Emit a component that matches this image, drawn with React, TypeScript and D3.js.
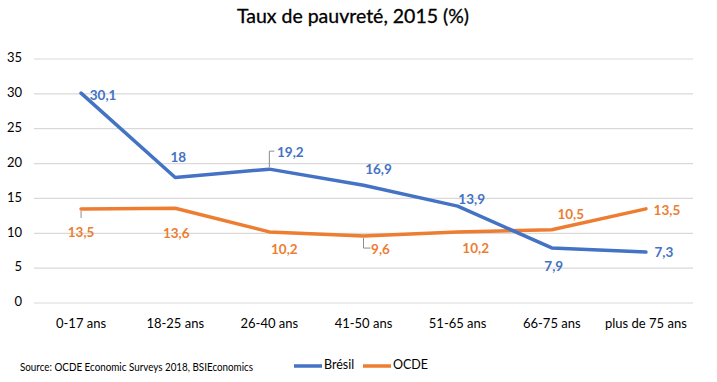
import React from "react";
import * as d3 from "d3";

const categories = ["0-17 ans", "18-25 ans", "26-40 ans", "41-50 ans", "51-65 ans", "66-75 ans", "plus de 75 ans"];
const bresil = [30.1, 18, 19.2, 16.9, 13.9, 7.9, 7.3];
const ocde = [13.5, 13.6, 10.2, 9.6, 10.2, 10.5, 13.5];
const yTicks = [0, 5, 10, 15, 20, 25, 30, 35];
const seriesNames = ["Brésil", "OCDE"];

// label offsets (px) relative to point: [dx, dy]
const bresilLabelOff: [number, number][] = [[22, 3], [3, -19], [21, -16], [15, -15], [14, -6], [2, 20], [18, 1]];
const ocdeLabelOff: [number, number][] = [[0, 25], [1, 26], [15, 19], [17, 14], [18, 18], [19, -14], [21, 3]];

const BLUE = "#4472C4";
const ORANGE = "#ED7D31";
const GREY = "#8c8c8c";
const FONT = "Lato, 'Open Sans', sans-serif";

const W = 717, H = 382;

export default function App() {
  const x = d3.scaleBand<string>().domain(categories).range([34, 693]);
  const y = d3.scaleLinear().domain([0, 35]).range([303, 59]);
  const cx = (c: string) => (x(c) as number) + x.bandwidth() / 2;
  const line = d3.line<number>().x((_, i) => cx(categories[i])).y((d) => y(d));

  const fmt = (v: number) => String(v).replace(".", ",");

  const renderLabels = (data: number[], offs: [number, number][], color: string, key: string) =>
    data.map((v, i) => {
      const px = cx(categories[i]);
      const py = y(v);
      const [dx, dy] = offs[i];
      return (
        <text key={key + i} x={px + dx} y={py + dy} textAnchor="middle" dominantBaseline="middle" fill={color} fontSize={13.5} fontWeight="bold">
          {fmt(v)}
        </text>
      );
    });

  // leader lines
  const b2x = cx(categories[2]), b2y = y(bresil[2]);
  const o0x = cx(categories[0]), o0y = y(ocde[0]);
  const o3x = cx(categories[3]), o3y = y(ocde[3]);

  return (
    <svg width={W} height={H} style={{ position: "absolute", left: 0, top: 0, background: "#fff" }} fontFamily={FONT}>
      <rect width={W} height={H} fill="#fff" />
      <text x={353} y={18} textAnchor="middle" dominantBaseline="middle" fontSize={19.5} fill="#000" stroke="#000" strokeWidth={0.3}>
        Taux de pauvreté, 2015 (%)
      </text>
      {yTicks.map((t) => (
        <g key={t}>
          <line x1={34} x2={693} y1={y(t)} y2={y(t)} stroke="#d9d9d9" strokeWidth={1.2} />
          <text x={22} y={y(t)} textAnchor="end" dominantBaseline="middle" fontSize={13} fill="#000">
            {t}
          </text>
        </g>
      ))}
      {categories.map((c) => (
        <text key={c} x={cx(c)} y={325} textAnchor="middle" dominantBaseline="middle" fontSize={13} fill="#000">
          {c}
        </text>
      ))}
      <polyline points={`${b2x},${b2y - 2} ${b2x},${b2y - 18} ${b2x + 5},${b2y - 18}`} fill="none" stroke={GREY} strokeWidth={1} />
      <line x1={o0x} x2={o0x} y1={o0y + 2} y2={o0y + 9} stroke={GREY} strokeWidth={1} />
      <polyline points={`${o3x},${o3y + 2} ${o3x},${o3y + 12} ${o3x + 7},${o3y + 12}`} fill="none" stroke={GREY} strokeWidth={1} />
      <path d={line(ocde) as string} fill="none" stroke={ORANGE} strokeWidth={3.5} strokeLinejoin="round" strokeLinecap="round" />
      <path d={line(bresil) as string} fill="none" stroke={BLUE} strokeWidth={3.5} strokeLinejoin="round" strokeLinecap="round" />
      {renderLabels(bresil, bresilLabelOff, BLUE, "b")}
      {renderLabels(ocde, ocdeLabelOff, ORANGE, "o")}
      <text x={20} y={368} dominantBaseline="middle" fontSize={12} fill="#000" textLength={233} lengthAdjust="spacingAndGlyphs">
        Source: OCDE Economic Surveys 2018, BSIEconomics
      </text>
      {seriesNames.map((s, i) => {
        const lx = i === 0 ? 294 : 363;
        return (
          <g key={s}>
            <line x1={lx} x2={lx + 28} y1={366} y2={366} stroke={i === 0 ? BLUE : ORANGE} strokeWidth={3.5} />
            <text x={lx + 30} y={366} dominantBaseline="middle" fontSize={12.5} fill="#000">
              {s}
            </text>
          </g>
        );
      })}
    </svg>
  );
}
